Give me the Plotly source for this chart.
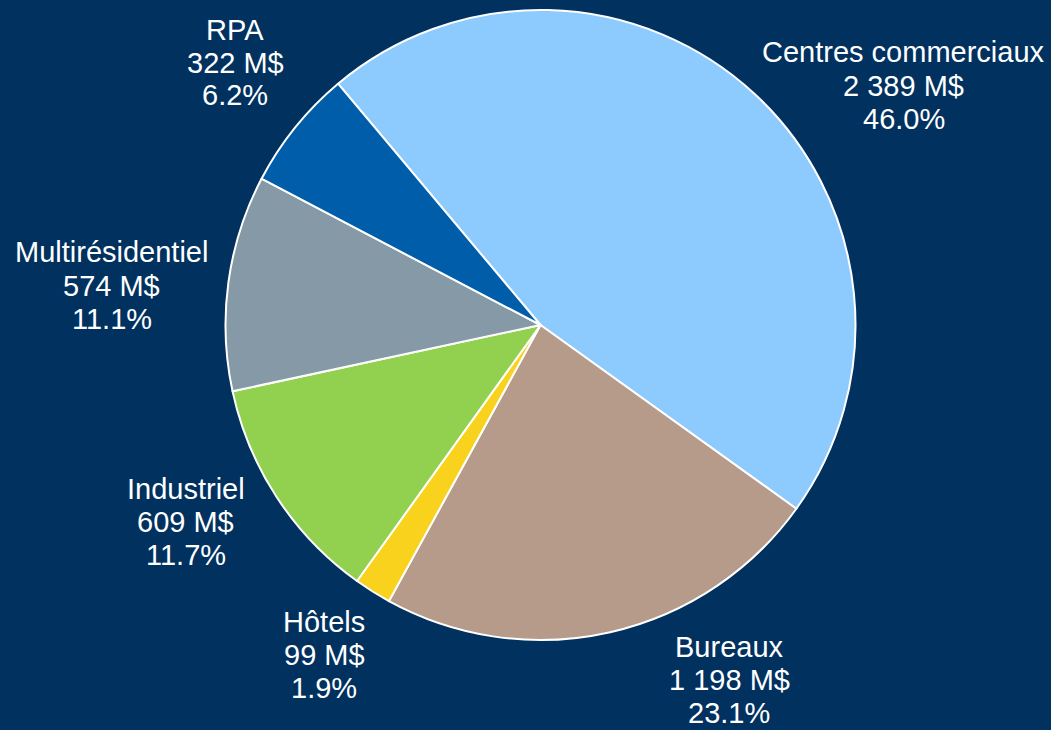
import plotly.graph_objects as go

categories = ["Centres commerciaux", "Bureaux", "Hôtels", "Industriel", "Multirésidentiel", "RPA"]
values = [2389, 1198, 99, 609, 574, 322]
value_labels = ["2 389 M$", "1 198 M$", "99 M$", "609 M$", "574 M$", "322 M$"]
colors = ["#8DCBFE", "#B69A8A", "#F8D21C", "#92D050", "#8599A6", "#005DAA"]

# label anchor in pixels: (center x, middle y of the first text line)
label_px = [(903.5, 52.5), (729, 647), (324, 622), (185.5, 489), (111.5, 252.5), (235, 29.5)]
line_gap = 33

W, H = 1051, 730
cx, cy, r = 540.5, 325, 315
BG = "#00315F"

total = sum(values)
fig = go.Figure(go.Pie(
    labels=categories,
    values=values,
    sort=False,
    direction="clockwise",
    rotation=-40,
    marker=dict(colors=colors, line=dict(color="white", width=2)),
    textinfo="none",
    showlegend=False,
    domain=dict(x=[(cx - r) / W, (cx + r) / W], y=[1 - (cy + r) / H, 1 - (cy - r) / H]),
))

for cat, v, vl, (px, py) in zip(categories, values, value_labels, label_px):
    pct = 100 * v / total
    for i, line in enumerate([cat, vl, f"{pct:.1f}%"]):
        fig.add_annotation(
            x=px / W, y=1 - (py + i * line_gap) / H, xref="paper", yref="paper",
            text=line, showarrow=False, align="center",
            font=dict(family="Liberation Sans, Arial", size=29, color="white"),
            xanchor="center", yanchor="middle",
        )

fig.update_layout(
    width=W, height=H,
    margin=dict(l=0, r=0, t=0, b=0),
    paper_bgcolor=BG,
    plot_bgcolor=BG,
)

fig.write_html(
    "out.html",
    config={"displayModeBar": False},
    post_script=f"document.body.style.margin='0';document.body.style.background='{BG}';",
)
